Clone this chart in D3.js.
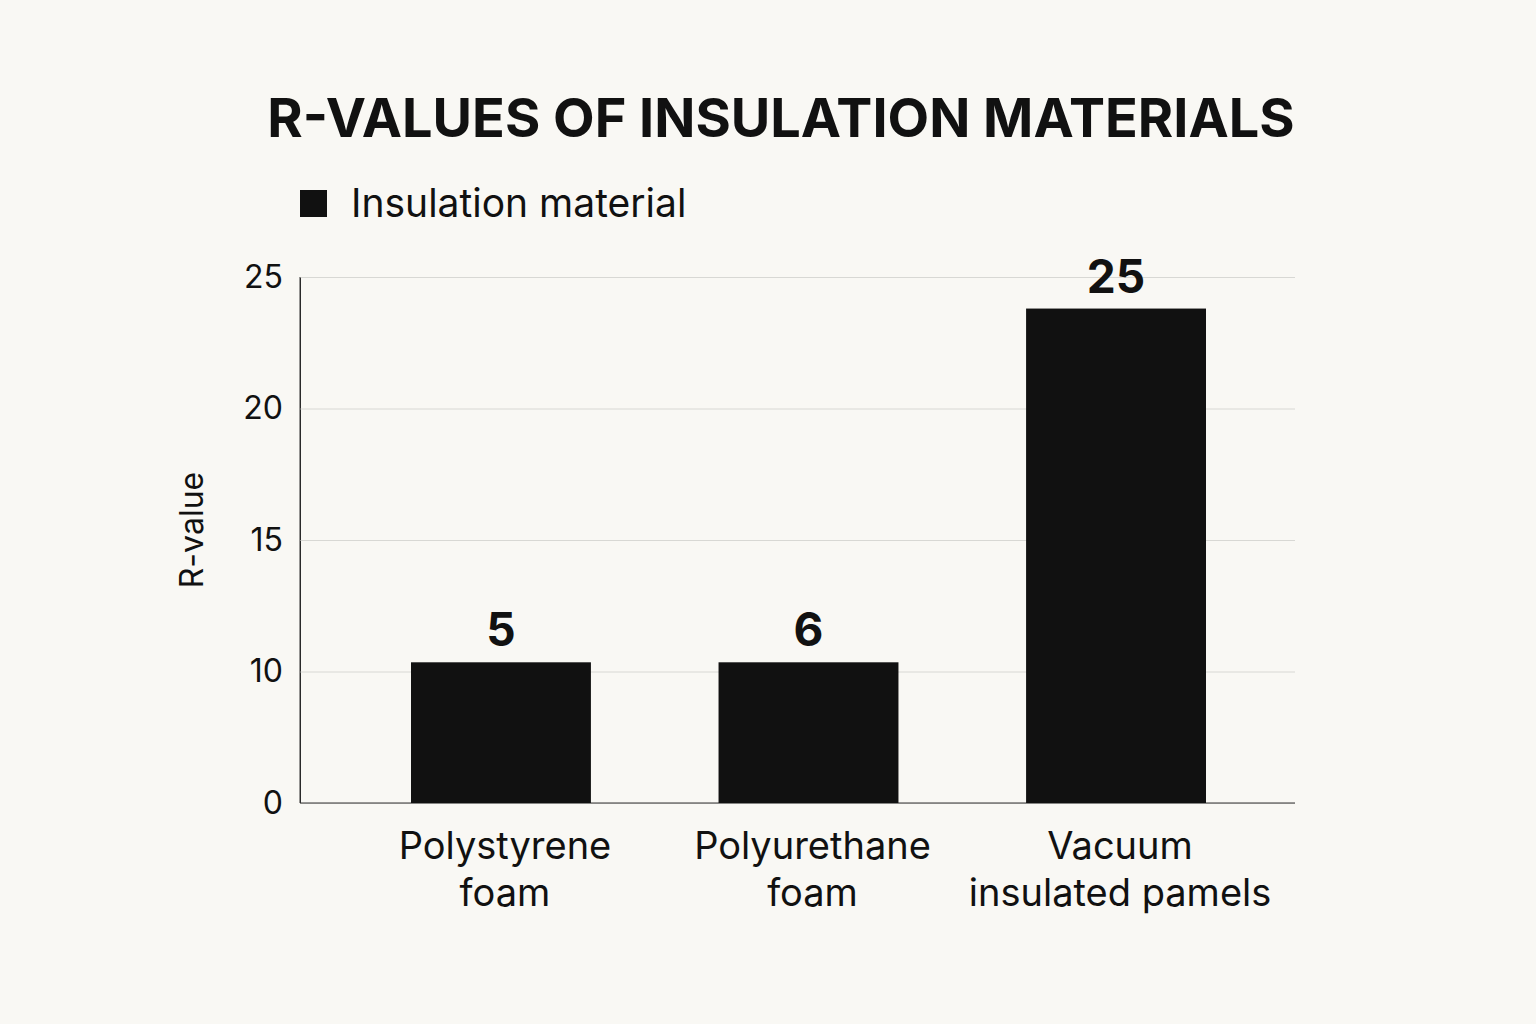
<!DOCTYPE html>
<html><head><meta charset="utf-8">
<script src="https://cdn.jsdelivr.net/npm/d3@7"></script>
<style>body{margin:0;background:#f9f8f4}</style></head>
<body><svg id="c" width="1536" height="1024"></svg>
<script>
const categories = [["Polystyrene","foam"],["Polyurethane","foam"],["Vacuum","insulated pamels"]];
const barValues = [5.35, 5.35, 18.8];
const valueLabels = ["5","6","25"];
const tickValues = [0,5,10,15,20];
const tickLabels = ["0","10","15","20","25"];

const svg = d3.select("#c");
const F = "Inter, 'Noto Sans', sans-serif";
svg.append("rect").attr("width",1536).attr("height",1024).attr("fill","#f9f8f4");
const x = d3.scaleBand().domain(d3.range(3)).range([411,1206]).paddingInner(0.415).paddingOuter(0);
const y = d3.scaleLinear().domain([0,20]).range([803,277]);

svg.append("text").attr("x",781).attr("y",137).attr("text-anchor","middle")
  .attr("font-family",F).attr("font-weight",700).attr("font-size",54).attr("fill","#111")
  .text("R-VALUES OF INSULATION MATERIALS");
svg.append("rect").attr("x",300).attr("y",190).attr("width",27).attr("height",27).attr("fill","#111");
svg.append("text").attr("x",351).attr("y",217).attr("font-family",F).attr("font-size",39).attr("fill","#111").text("Insulation material");

const yAxis = d3.axisLeft(y).tickValues(tickValues).tickFormat((d,i)=>tickLabels[i]).tickSize(-995).tickPadding(17);
const g = svg.append("g").attr("transform","translate(300,0)").call(yAxis);
g.select(".domain").attr("stroke","#222");
g.selectAll(".tick line").attr("stroke","#d8d8d4");
g.selectAll(".tick text").attr("font-family",F).attr("font-size",32).attr("fill","#111");
svg.append("line").attr("x1",300).attr("x2",1295).attr("y1",y(0)).attr("y2",y(0)).attr("stroke","#333");
svg.append("line").attr("x1",300).attr("x2",300).attr("y1",277).attr("y2",803).attr("stroke","#333");

svg.selectAll(".bar").data(barValues).join("rect")
  .attr("x",(d,i)=>x(i)).attr("width",x.bandwidth()).attr("y",d=>y(d)).attr("height",d=>y(0)-y(d)).attr("fill","#111");
svg.selectAll(".vl").data(barValues).join("text")
  .attr("x",(d,i)=>x(i)+x.bandwidth()/2).attr("y",d=>y(d)-16).attr("text-anchor","middle")
  .attr("font-family",F).attr("font-weight",700).attr("font-size",46).attr("fill","#111")
  .text((d,i)=>valueLabels[i]);
categories.forEach((c,i)=>{
  c.forEach((t,j)=>svg.append("text").attr("x",x(i)+x.bandwidth()/2+4).attr("y",859+j*47)
    .attr("text-anchor","middle").attr("font-family",F).attr("font-size",38).attr("fill","#111").text(t));
});
svg.append("text").attr("transform","translate(203,530) rotate(-90)").attr("text-anchor","middle")
  .attr("font-family",F).attr("font-size",32).attr("fill","#111").text("R-value");
</script></body></html>
